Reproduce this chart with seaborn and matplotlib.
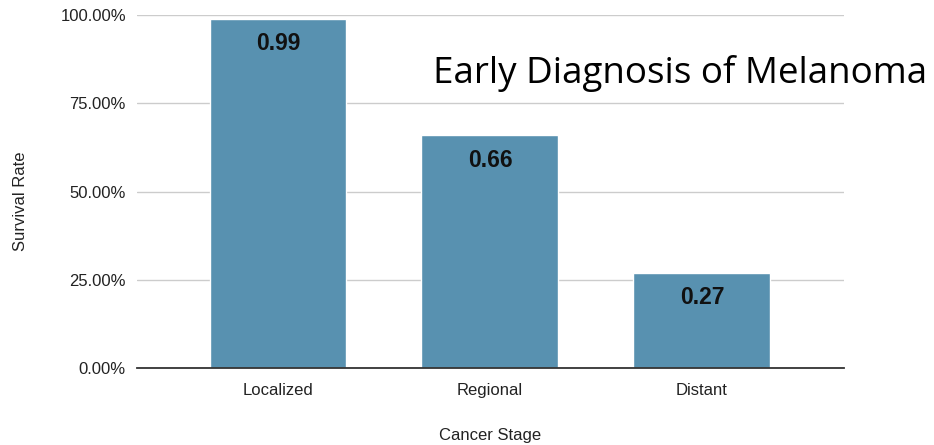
import matplotlib
matplotlib.use('Agg')
import matplotlib.pyplot as plt
import matplotlib.ticker as mtick
import seaborn as sns

# data
stages = ['Localized', 'Regional', 'Distant']
survival = [0.99, 0.66, 0.27]
yticks = [0, 0.25, 0.5, 0.75, 1.0]

sns.set_style('white')
plt.rcParams['font.family'] = ['Liberation Sans', 'DejaVu Sans']

fig = plt.figure(figsize=(9.34, 4.45), dpi=100)
ax = fig.add_axes([137 / 934, 1 - 368 / 445, 707 / 934, 353 / 445])

sns.barplot(x=stages, y=survival, color='#5891b0', saturation=1, width=0.646, ax=ax, zorder=3)

ax.set_ylim(0, 1)
ax.set_xlim(-0.665, 2.67)
ax.set_yticks(yticks)
ax.yaxis.set_major_formatter(mtick.PercentFormatter(1, decimals=2))
ax.grid(axis='y', color='#cccccc', linewidth=1, zorder=0)
ax.set_axisbelow(True)
ax.tick_params(axis='both', length=0, labelsize=12, colors='#222222')
ax.tick_params(axis='x', pad=11)
ax.tick_params(axis='y', pad=8)

for s in ['top', 'right', 'left']:
    ax.spines[s].set_visible(False)
ax.spines['bottom'].set_color('#333333')
ax.spines['bottom'].set_linewidth(1.3)
ax.spines['bottom'].set_zorder(4)

for i, v in enumerate(survival):
    ax.annotate(f'{v:.2f}', (i, v), xytext=(0, -18), textcoords='offset points',
                ha='center', va='center', fontsize=16.5, fontweight='bold', color='#111111', zorder=5)

ax.set_ylabel('Survival Rate', fontsize=12, color='#222222')
ax.set_xlabel('Cancer Stage', fontsize=12, color='#222222')
ax.yaxis.set_label_coords(-0.154, 0.473)
ax.xaxis.set_label_coords(0.5, -0.17)

fig.text(433 / 934, 1 - 83 / 445, 'Early Diagnosis of Melanoma', fontsize=26.5,
         family=['Open Sans', 'DejaVu Sans'], va='baseline', ha='left', color='black')

fig.savefig('out.png', dpi=100)
